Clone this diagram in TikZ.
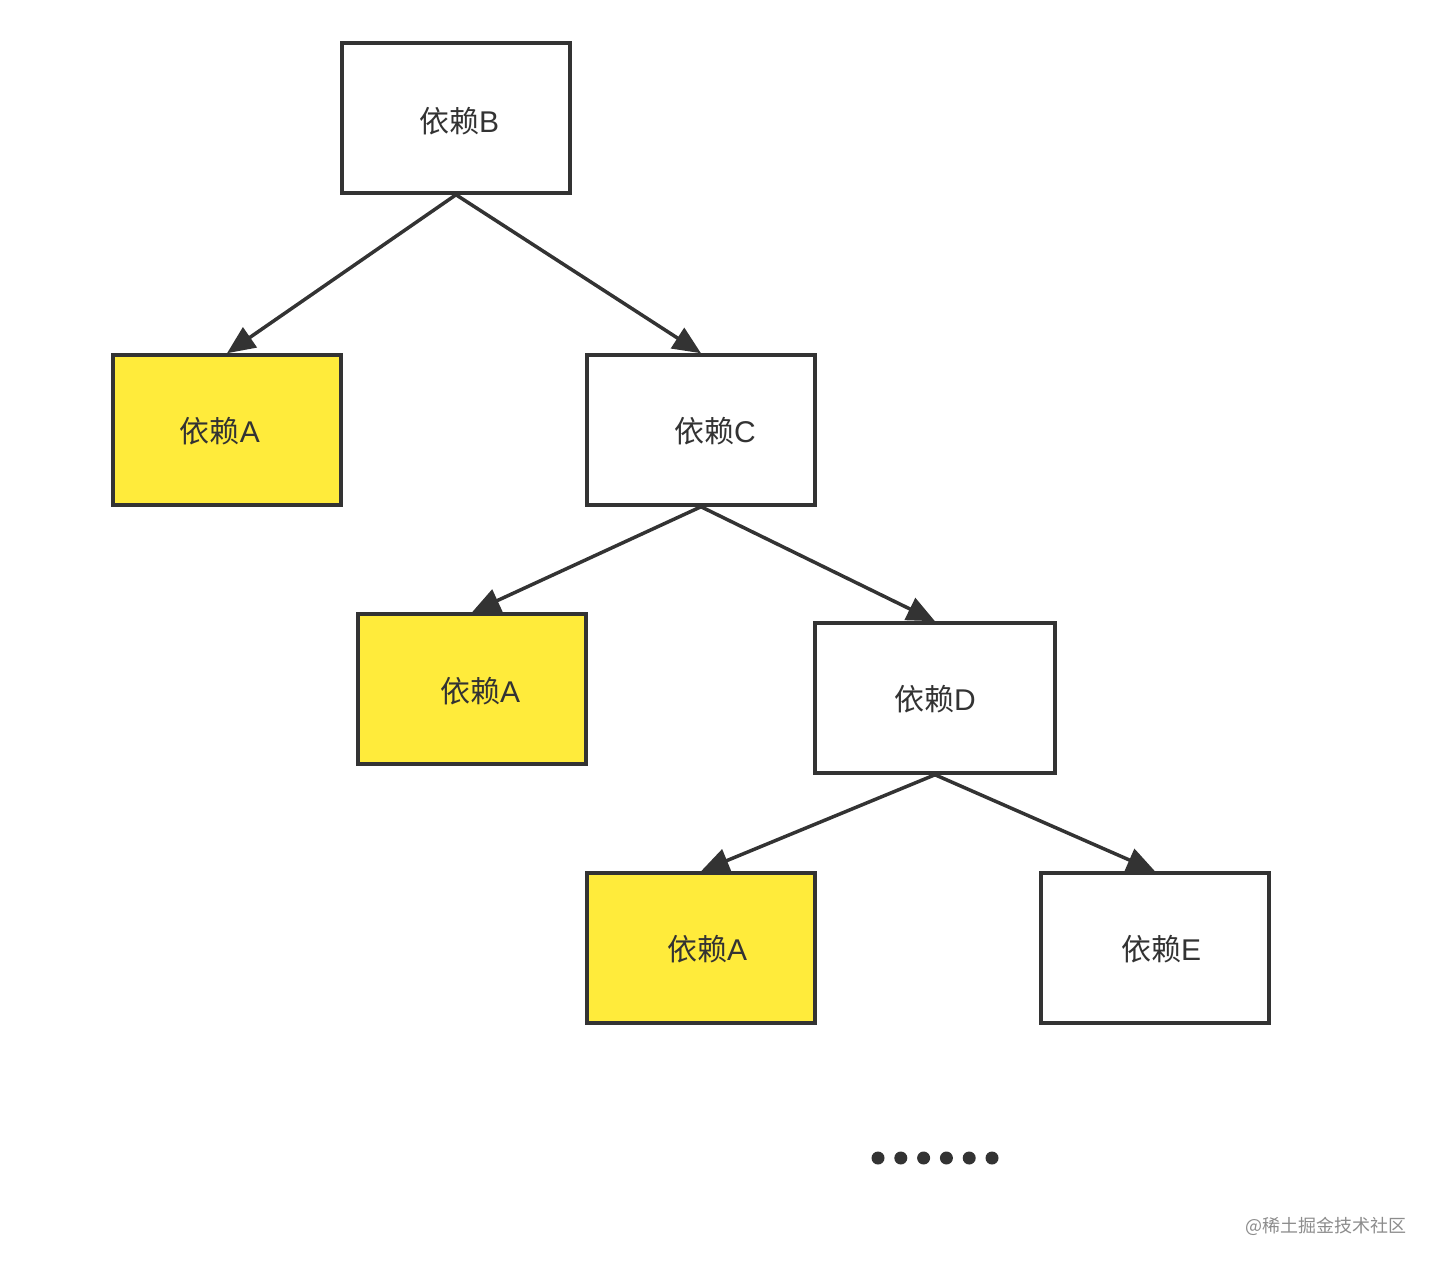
\documentclass[tikz,border=0pt]{standalone}
\usepackage{fontspec}
\setmainfont{Liberation Sans}
\newfontfamily\cjk{Noto Sans CJK SC}
\usetikzlibrary{arrows.meta}
\definecolor{ink}{HTML}{333333}
\definecolor{hit}{HTML}{FFEB3B}
\newcommand{\dep}[1]{{\cjk 依赖}#1}
\begin{document}
\begin{tikzpicture}[x=1pt,y=-1pt]

      \useasboundingbox (0,0) rectangle (1440,1268);

      \tikzset{
        box/.style={draw=ink, line width=3.5pt, fill=white, minimum width=228pt,
          minimum height=150pt, inner sep=0pt},
        seen/.style={box, fill=hit},
        tag/.style={text=ink, font=\fontsize{30}{30}\selectfont},
        dep/.style={draw=ink, line width=3.5pt, -{Triangle[length=28pt,width=24pt]}}
      }

      \node[box]  (B)  at (456,118)  {};
      \node[seen] (A1) at (227,430)  {};
      \node[box]  (C)  at (701,430)  {};
      \node[seen] (A2) at (472,689)  {};
      \node[box, minimum width=240pt] (D) at (935,698) {};
      \node[seen] (A3) at (701,948)  {};
      \node[box]  (E)  at (1155,948) {};

      % labels sit a little off centre in the picture
      \node[tag] (tB)  at (459,121)  {\dep{B}};
      \node[tag] (tA1) at (220,431)  {\dep{A}};
      \node[tag] (tC)  at (715,431)  {\dep{C}};
      \node[tag] (tA2) at (480,691)  {\dep{A}};
      \node[tag] (tD)  at (935,699)  {\dep{D}};
      \node[tag] (tA3) at (707,949)  {\dep{A}};
      \node[tag] (tE)  at (1161,949) {\dep{E}};

      \draw[dep] (B.south)  -- (A1.north);
      \draw[dep] (B.south)  -- (C.north);
      \draw[dep] (C.south)  -- (A2.north);
      \draw[dep] (C.south)  -- (D.north);
      \draw[dep] (D.south)  -- (A3.north);
      \draw[dep] (D.south)  -- (E.north);

      \foreach \i in {0,...,5}
        \fill[ink] (878+22.8*\i,1158) circle (6.5pt);

      \node[text=black!45, font=\cjk\fontsize{18}{18}\selectfont, anchor=east] (wm) at (1410,1226) {@稀土掘金技术社区};

    \end{tikzpicture}
\end{document}
